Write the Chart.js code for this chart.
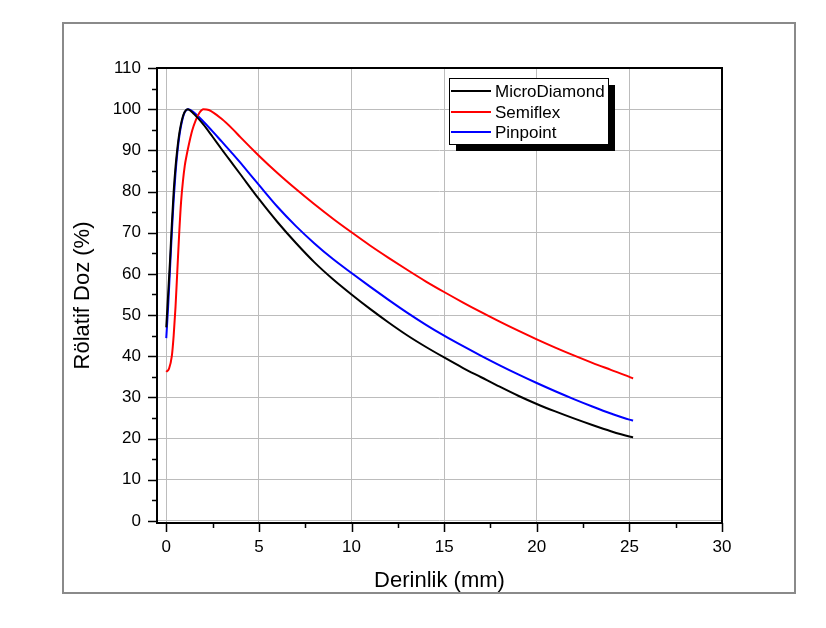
<!DOCTYPE html>
<html><head><meta charset="utf-8">
<script src="https://cdn.jsdelivr.net/npm/chart.js@4.4.0/dist/chart.umd.min.js"></script>
<style>html,body{margin:0;padding:0;background:#fff;overflow:hidden}</style>
</head><body>
<canvas id="c" width="826" height="628"></canvas>
<script>
// ---- data ----
const seriesNames = ["MicroDiamond", "Semiflex", "Pinpoint"];
const seriesColors = ["#000000", "#ff0000", "#0000ff"];

const depthMicro = [0, 0.1, 0.2, 0.3, 0.4, 0.5, 0.6, 0.7, 0.8, 0.9, 1.0, 1.15, 1.5, 2, 2.5, 3, 3.6, 4, 5, 6, 7, 8, 9, 10, 11, 12, 13, 14, 15, 16, 17, 18, 19, 20, 21, 22, 23, 24, 25, 25.2];
const doseMicro  = [47, 55, 63, 72, 80, 86, 90.5, 94, 96.5, 98.3, 99.4, 100, 98.8, 96.3, 93.3, 90.2, 86.6, 84.2, 78.2, 72.6, 67.5, 62.8, 58.7, 55, 51.5, 48.2, 45.1, 42.3, 39.7, 37.2, 34.9, 32.6, 30.4, 28.4, 26.6, 24.9, 23.3, 21.8, 20.5, 20.3];

const depthSemi = [0, 0.15, 0.3, 0.4, 0.5, 0.6, 0.7, 0.8, 0.9, 1.0, 1.1, 1.2, 1.4, 1.6, 1.8, 2.0, 2.3, 3, 3.6, 4, 5, 6, 7, 8, 9, 10, 11, 12, 13, 14, 15, 16, 17, 18, 19, 20, 21, 22, 23, 24, 25, 25.2];
const doseSemi  = [36.2, 37, 40, 45, 52, 61, 70, 77.5, 82.5, 86.3, 88.8, 91, 94.8, 97.4, 99.2, 100, 99.8, 97.6, 95.1, 93.2, 88.7, 84.5, 80.6, 76.9, 73.4, 70.1, 66.9, 63.9, 61, 58.2, 55.6, 53.1, 50.7, 48.4, 46.2, 44.1, 42.1, 40.2, 38.4, 36.7, 35, 34.6];

const depthPin = [0, 0.1, 0.2, 0.3, 0.4, 0.5, 0.6, 0.7, 0.8, 0.9, 1.0, 1.2, 1.5, 2, 2.5, 3, 3.6, 4, 5, 6, 7, 8, 9, 10, 11, 12, 13, 14, 15, 16, 17, 18, 19, 20, 21, 22, 23, 24, 25, 25.2];
const dosePin  = [44.4, 52, 61, 70, 78, 84.5, 89.5, 93.3, 96, 98, 99.3, 100, 99.2, 97, 94.6, 92.1, 89.1, 87, 81.6, 76.3, 71.6, 67.4, 63.6, 60.2, 56.9, 53.7, 50.6, 47.7, 45, 42.5, 40.1, 37.8, 35.6, 33.5, 31.5, 29.6, 27.8, 26.1, 24.6, 24.4];

const xTickValues = [0, 5, 10, 15, 20, 25, 30];
const yTickValues = [0, 10, 20, 30, 40, 50, 60, 70, 80, 90, 100, 110];
const xTitle = "Derinlik (mm)";
const yTitle = "Rölatif Doz (%)";

// ---- build ----
const FONT = "'Liberation Sans', Arial, sans-serif";
function pts(xs, ys) { return xs.map((x, i) => ({ x: x, y: ys[i] })); }
const seriesData = [pts(depthMicro, doseMicro), pts(depthSemi, doseSemi), pts(depthPin, dosePin)];

const decorPlugin = {
  id: 'decor',
  beforeDraw(chart) {
    const ctx = chart.ctx;
    ctx.save();
    ctx.fillStyle = '#ffffff';
    ctx.fillRect(0, 0, chart.width, chart.height);
    ctx.strokeStyle = '#8a8a8a';
    ctx.lineWidth = 2;
    ctx.strokeRect(63, 23, 732, 570);
    ctx.restore();
  },
  afterDatasetsDraw(chart) {
    const ctx = chart.ctx;
    const a = chart.chartArea;
    const xs = chart.scales.x, ys = chart.scales.y;
    ctx.save();
    ctx.strokeStyle = '#000';
    ctx.lineWidth = 2;
    ctx.strokeRect(a.left, a.top, a.right - a.left, a.bottom - a.top);
    ctx.lineWidth = 1.5;
    ctx.beginPath();
    for (let v = 0; v <= 30.001; v += 2.5) {
      const px = Math.round(xs.getPixelForValue(v)) + 0.5;
      const major = Math.abs(v / 5 - Math.round(v / 5)) < 1e-6;
      ctx.moveTo(px, a.bottom);
      ctx.lineTo(px, a.bottom + (major ? 9 : 5));
    }
    for (let v = 0; v <= 110.001; v += 5) {
      const py = Math.round(ys.getPixelForValue(v)) + 0.5;
      const major = v % 10 === 0;
      ctx.moveTo(a.left, py);
      ctx.lineTo(a.left - (major ? 9 : 5), py);
    }
    ctx.stroke();

    // legend with shadow
    const L = 449, T = 78, W = 159, H = 66;
    ctx.fillStyle = '#000';
    ctx.fillRect(L + 7, T + 7, W, H);
    ctx.fillStyle = '#fff';
    ctx.fillRect(L, T, W, H);
    ctx.lineWidth = 1;
    ctx.strokeStyle = '#000';
    ctx.strokeRect(L + 0.5, T + 0.5, W, H);
    ctx.font = '17px ' + FONT;
    ctx.textBaseline = 'middle';
    ctx.textAlign = 'left';
    const rows = [91, 112, 132];
    seriesNames.forEach((n, i) => {
      ctx.strokeStyle = seriesColors[i];
      ctx.lineWidth = 2;
      ctx.beginPath();
      ctx.moveTo(451, rows[i]);
      ctx.lineTo(491, rows[i]);
      ctx.stroke();
      ctx.fillStyle = '#000';
      ctx.fillText(n, 495, rows[i] + 1);
    });
    ctx.restore();
  }
};

new Chart(document.getElementById('c'), {
  type: 'line',
  data: {
    datasets: seriesNames.map((n, i) => ({
      label: n,
      data: seriesData[i],
      borderColor: seriesColors[i],
      backgroundColor: seriesColors[i],
      borderWidth: 2,
      pointRadius: 0,
      cubicInterpolationMode: 'monotone',
      fill: false
    }))
  },
  options: {
    responsive: false,
    animation: false,
    layout: { padding: { left: 0, top: 68, right: 104, bottom: 0 } },
    plugins: { legend: { display: false }, tooltip: { enabled: false } },
    scales: {
      x: {
        type: 'linear', min: -0.5, max: 30,
        afterBuildTicks: s => { s.ticks = xTickValues.map(v => ({ value: v })); },
        afterFit: s => { s.height = 105; },
        grid: { color: '#bcbcbc', lineWidth: 1, drawTicks: false },
        border: { display: false },
        ticks: { color: '#000', font: { family: FONT, size: 17 }, padding: 14, maxRotation: 0, autoSkip: false },
        title: { display: true, text: xTitle, color: '#000', font: { family: FONT, size: 22 }, padding: { top: 0, bottom: 34 } }
      },
      y: {
        type: 'linear', min: -0.5, max: 110,
        afterBuildTicks: s => { s.ticks = yTickValues.map(v => ({ value: v })); },
        afterFit: s => { s.width = 157; },
        grid: { color: '#bcbcbc', lineWidth: 1, drawTicks: false },
        border: { display: false },
        ticks: { color: '#000', font: { family: FONT, size: 17 }, padding: 16, autoSkip: false },
        title: { display: true, text: yTitle, color: '#000', font: { family: FONT, size: 22 }, padding: { top: 70, bottom: 0 } }
      }
    }
  },
  plugins: [decorPlugin]
});
</script>
</body></html>
